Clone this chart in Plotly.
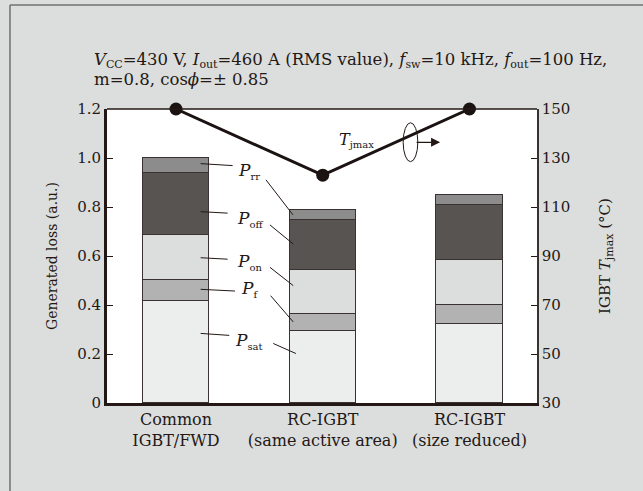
import plotly.graph_objects as go

# ---- data ----
categories = ["Common<br>IGBT/FWD", "RC-IGBT<br>(same active area)", "RC-IGBT<br>(size reduced)"]
p_sat = [0.417, 0.293, 0.323]
p_f = [0.085, 0.070, 0.075]
p_on = [0.183, 0.180, 0.185]
p_off = [0.254, 0.203, 0.225]
p_rr = [0.061, 0.041, 0.042]
tj_max = [150, 123, 150]
loss_ticks = [0, 0.2, 0.4, 0.6, 0.8, 1.0, 1.2]
loss_tick_labels = ["0", "0.2", "0.4", "0.6", "0.8", "1.0", "1.2"]
tj_ticks = [30, 50, 70, 90, 110, 130, 150]

FONT = "'DejaVu Serif', 'Liberation Serif', serif"
INK = "#231815"
x_pos = list(range(len(categories)))


def sub(s, size):
    return "<sub><span style='font-size:%dpx'>%s</span></sub>" % (size, s)


series = [
    ("P_sat", p_sat, "#eceeed"),
    ("P_f", p_f, "#b2b2b2"),
    ("P_on", p_on, "#dcdddd"),
    ("P_off", p_off, "#575452"),
    ("P_rr", p_rr, "#8c8c8c"),
]

fig = go.Figure()
for name, vals, col in series:
    fig.add_trace(go.Bar(
        x=x_pos, y=vals, name=name, width=0.45,
        marker=dict(color=col, line=dict(color="#3a3131", width=1.5)),
        yaxis="y", showlegend=False,
    ))

fig.add_trace(go.Scatter(
    x=x_pos, y=tj_max, yaxis="y2", mode="lines+markers",
    line=dict(color="#1a1311", width=3),
    marker=dict(color="#1a1311", size=13),
    cliponaxis=False, showlegend=False,
))

# ---- label annotations with leader lines (layout positions) ----
labels = [
    ("<i>P</i>" + sub("rr", 10), (0.50, 0.945), (0.168, 0.977, 0.386, 0.969), (0.613, 0.911, 0.797, 0.768)),
    ("<i>P</i>" + sub("off", 10), (0.505, 0.752), (0.168, 0.781, 0.352, 0.775), (0.640, 0.727, 0.799, 0.649)),
    ("<i>P</i>" + sub("on", 10), (0.50, 0.577), (0.168, 0.593, 0.352, 0.587), (0.640, 0.554, 0.799, 0.479)),
    ("<i>P</i>" + sub("f", 10), (0.50, 0.465), (0.168, 0.464, 0.402, 0.457), (0.645, 0.438, 0.799, 0.331)),
    ("<i>P</i>" + sub("sat", 10), (0.50, 0.254), (0.168, 0.284, 0.363, 0.276), (0.663, 0.243, 0.817, 0.202)),
]
shapes = []
annotations = []
for txt, (tx, ty), left, right in labels:
    annotations.append(dict(x=tx, y=ty, xref="x", yref="y", text=txt, showarrow=False,
                            font=dict(family=FONT, size=17, color=INK)))
    for seg in (left, right):
        shapes.append(dict(type="line", xref="x", yref="y", x0=seg[0], y0=seg[1], x1=seg[2], y1=seg[3],
                           line=dict(color=INK, width=1)))

# T_jmax label and curved arrow symbol
annotations.append(dict(x=1.233, y=1.075, xref="x", yref="y", text="<i>T</i>" + sub("jmax", 10),
                        showarrow=False, font=dict(family=FONT, size=16, color=INK)))
shapes.append(dict(type="circle", xref="x", yref="y", x0=1.548, x1=1.648, y0=0.985, y1=1.144,
                   line=dict(color=INK, width=1)))
annotations.append(dict(x=1.80, y=1.064, xref="x", yref="y", ax=-25, ay=0, text="",
                        showarrow=True, arrowhead=2, arrowsize=1.4, arrowwidth=1.3, arrowcolor=INK))

# top frame line of plot area
shapes.append(dict(type="line", xref="paper", yref="paper", x0=0, x1=1, y0=1, y1=1,
                   line=dict(color=INK, width=1.5)))
# outer panel border (top and left)
shapes.append(dict(type="line", xref="paper", yref="paper", x0=-0.2256, x1=1.3, y0=1.3537, y1=1.3537,
                   line=dict(color="#707070", width=1.5)))
shapes.append(dict(type="line", xref="paper", yref="paper", x0=-0.2256, x1=-0.2256, y0=-0.5, y1=1.3537,
                   line=dict(color="#707070", width=1.5)))

# conditions text
annotations.append(dict(x=-0.035, y=1.165, xref="paper", yref="paper", xanchor="left", yanchor="middle",
                        showarrow=False, font=dict(family=FONT, size=16.5, color=INK),
                        text="<i>V</i>" + sub("CC", 11) + "=430 V, <i>I</i>" + sub("out", 11)
                             + "=460 A (RMS value), <i>f</i>" + sub("sw", 11) + "=10 kHz, <i>f</i>"
                             + sub("out", 11) + "=100 Hz,"))
annotations.append(dict(x=-0.035, y=1.102, xref="paper", yref="paper", xanchor="left", yanchor="middle",
                        showarrow=False, font=dict(family=FONT, size=16.5, color=INK),
                        text="m=0.8, cos<i>ϕ</i>=± 0.85"))

fig.update_layout(
    width=643, height=491,
    margin=dict(l=107, r=106, t=109, b=88),
    paper_bgcolor="#dcdedd", plot_bgcolor="#ffffff",
    barmode="stack", bargap=0,
    font=dict(family=FONT, color=INK, size=15),
    xaxis=dict(range=[-0.47, 2.46], tickvals=x_pos, ticktext=categories, showgrid=False,
               zeroline=False, showline=True, linecolor=INK, linewidth=3, ticks="",
               tickfont=dict(family=FONT, size=16, color=INK)),
    yaxis=dict(range=[0, 1.2], tickvals=loss_ticks, ticktext=loss_tick_labels, showgrid=False,
               zeroline=False, showline=True, linecolor=INK, linewidth=3,
               ticks="inside", ticklen=6, tickwidth=1, tickcolor=INK,
               tickfont=dict(family=FONT, size=15, color=INK),
               title=dict(text="Generated loss (a.u.)", font=dict(family=FONT, size=14, color=INK),
                          standoff=17)),
    yaxis2=dict(range=[30, 150], tickvals=tj_ticks, overlaying="y", side="right", showgrid=False,
                zeroline=False, showline=True, linecolor="#3a3131", linewidth=1.5,
                ticks="inside", ticklen=6, tickwidth=1, tickcolor=INK,
                tickfont=dict(family=FONT, size=15, color=INK),
                title=dict(text="IGBT <i>T</i>" + sub("jmax", 11) + " (°C)",
                           font=dict(family=FONT, size=15, color=INK), standoff=30)),
    shapes=shapes, annotations=annotations,
)

fig.write_html("out.html")
